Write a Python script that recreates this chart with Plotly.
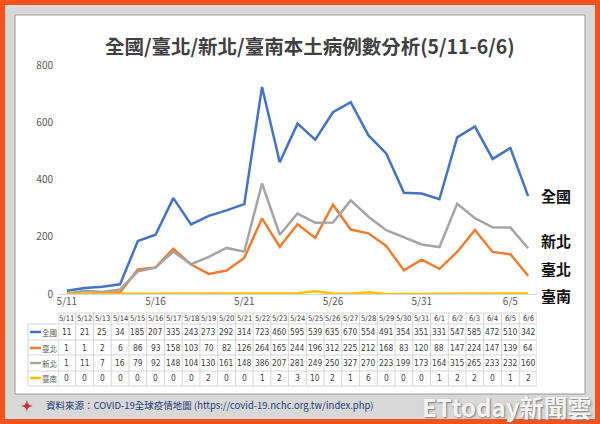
import plotly.graph_objects as go

dates = ["5/11","5/12","5/13","5/14","5/15","5/16","5/17","5/18","5/19","5/20","5/21","5/22","5/23","5/24",
         "5/25","5/26","5/27","5/28","5/29","5/30","5/31","6/1","6/2","6/3","6/4","6/5","6/6"]
national = [11,21,25,34,185,207,335,243,273,292,314,723,460,595,539,635,670,554,491,354,351,331,547,585,472,510,342]
taipei   = [1,1,2,6,86,93,158,103,70,82,126,264,165,244,196,312,225,212,168,83,120,88,147,224,147,139,64]
newtaipei= [1,11,7,16,79,92,148,104,130,161,148,386,207,281,249,250,327,270,223,199,173,164,315,265,233,232,160]
tainan   = [0,0,0,0,0,0,0,0,2,0,0,1,2,3,10,2,1,6,0,0,0,1,2,2,0,1,2]

series_names = ["全國", "臺北", "新北", "臺南"]
series_vals = [national, taipei, newtaipei, tainan]
colors = ["#4472C4", "#ED7D31", "#A5A5A5", "#FFC000"]
tick_idx = [0, 5, 10, 15, 20, 25]
yticks = [0, 200, 400, 600, 800]

W, H = 600, 424
L, R, T, B = 58, 537, 65, 294  # plot area pixels
pw, ph = R - L, B - T

def px(x):
    return (x - L) / pw

def py(y):
    return (B - y) / ph

FONT = "Noto Sans CJK TC, Open Sans, sans-serif"
NARROW = "Liberation Sans Narrow, DejaVu Sans Condensed, Liberation Sans, sans-serif"
n = len(dates)
xs = list(range(n))

fig = go.Figure()
for name, vals, c in zip(series_names, series_vals, colors):
    fig.add_trace(go.Scatter(x=xs, y=vals, mode="lines", name=name,
                             line=dict(color=c, width=2.5), hoverinfo="skip"))

shapes = []
shapes.append(dict(type="rect", xref="paper", yref="paper", x0=px(5), x1=px(595), y0=py(419), y1=py(5),
                   fillcolor="#D8D8D8", line=dict(width=0), layer="below"))
shapes.append(dict(type="rect", xref="paper", yref="paper", x0=px(15), x1=px(585), y0=py(394), y1=py(15),
                   fillcolor="#FFFFFF", line=dict(color="#9A9A9A", width=1), layer="below"))

tab_top = 313
row_lines = [324, 340, 355, 371, 386]
row_text = [332, 348, 363, 378]
leg_left = 28
shapes.append(dict(type="line", xref="x", yref="paper", x0=-0.5, x1=n - 0.5, y0=py(tab_top), y1=py(tab_top),
                   line=dict(color="#D6D6D6", width=1)))
for yy in row_lines:
    shapes.append(dict(type="line", xref="paper", yref="paper", x0=px(leg_left), x1=px(R), y0=py(yy), y1=py(yy),
                       line=dict(color="#D6D6D6", width=1)))
for i in range(n + 1):
    shapes.append(dict(type="line", xref="x", yref="paper", x0=i - 0.5, x1=i - 0.5, y0=py(tab_top), y1=py(386),
                       line=dict(color="#D6D6D6", width=1)))
shapes.append(dict(type="line", xref="paper", yref="paper", x0=px(leg_left), x1=px(leg_left), y0=py(324), y1=py(386),
                   line=dict(color="#D6D6D6", width=1)))

annotations = []

def ann(x, y, text, size, color, family=FONT, xref="paper", xanchor="center", **kw):
    annotations.append(dict(x=x, y=y, xref=xref, yref="paper", text=text, showarrow=False,
                            xanchor=xanchor, yanchor="middle",
                            font=dict(size=size, color=color, family=family, **kw)))

for i, d in enumerate(dates):
    ann(i, py(318.5), d, 7.6, "#404040", NARROW, xref="x")
for r, (name, vals, c) in enumerate(zip(series_names, series_vals, colors)):
    yy = row_text[r]
    for i, v in enumerate(vals):
        ann(i, py(yy), str(v), 8.4, "#404040", NARROW, xref="x")
    shapes.append(dict(type="line", xref="paper", yref="paper", x0=px(30), x1=px(41), y0=py(yy), y1=py(yy),
                       line=dict(color=c, width=2.5)))
    ann(px(40), py(yy), name, 7.5, "#595959", xanchor="left")

label_y = [195, 268, 240, 295]
for name, yy in zip(series_names, label_y):
    ann(px(556), py(yy), "<b>" + name + "</b>", 15, "#111111")

ann(px(310), py(46), "<b>全國/臺北/新北/臺南本土病例數分析(5/11-6/6)</b>", 19.5, "#404040")
ann(px(44), py(405), "資料來源：COVID-19全球疫情地圖 (https://covid-19.nchc.org.tw/index.php)",
    9.5, "#1F3A78", xanchor="left")
ann(px(27), py(405), "<b>✦</b>", 14, "#C0392B")
ann(px(593), py(406), "<b>ETtoday新聞雲</b>", 24, "#F4F4F4", xanchor="right", shadow="1px 1px 2px #7A7A7A")

fig.update_layout(
    width=W, height=H,
    margin=dict(l=L, r=W - R, t=T, b=H - B),
    paper_bgcolor="#F5521C", plot_bgcolor="rgba(0,0,0,0)",
    showlegend=False, shapes=shapes, annotations=annotations,
    font=dict(family=FONT),
    xaxis=dict(range=[-0.5, n - 0.5], tickmode="array", tickvals=tick_idx,
               ticktext=[dates[i] for i in tick_idx], showgrid=False, zeroline=False,
               showline=False, ticks="", tickfont=dict(size=10, color="#595959")),
    yaxis=dict(range=[0, 800], tickvals=yticks, showgrid=False, zeroline=True,
               zerolinecolor="#D9D9D9", zerolinewidth=1, showline=False,
               tickfont=dict(size=10, color="#595959"), ticklabelstandoff=4),
)

fig.write_html("out.html", config={"displayModeBar": False},
               post_script="document.body.style.margin='0';document.body.style.overflow='hidden';")
